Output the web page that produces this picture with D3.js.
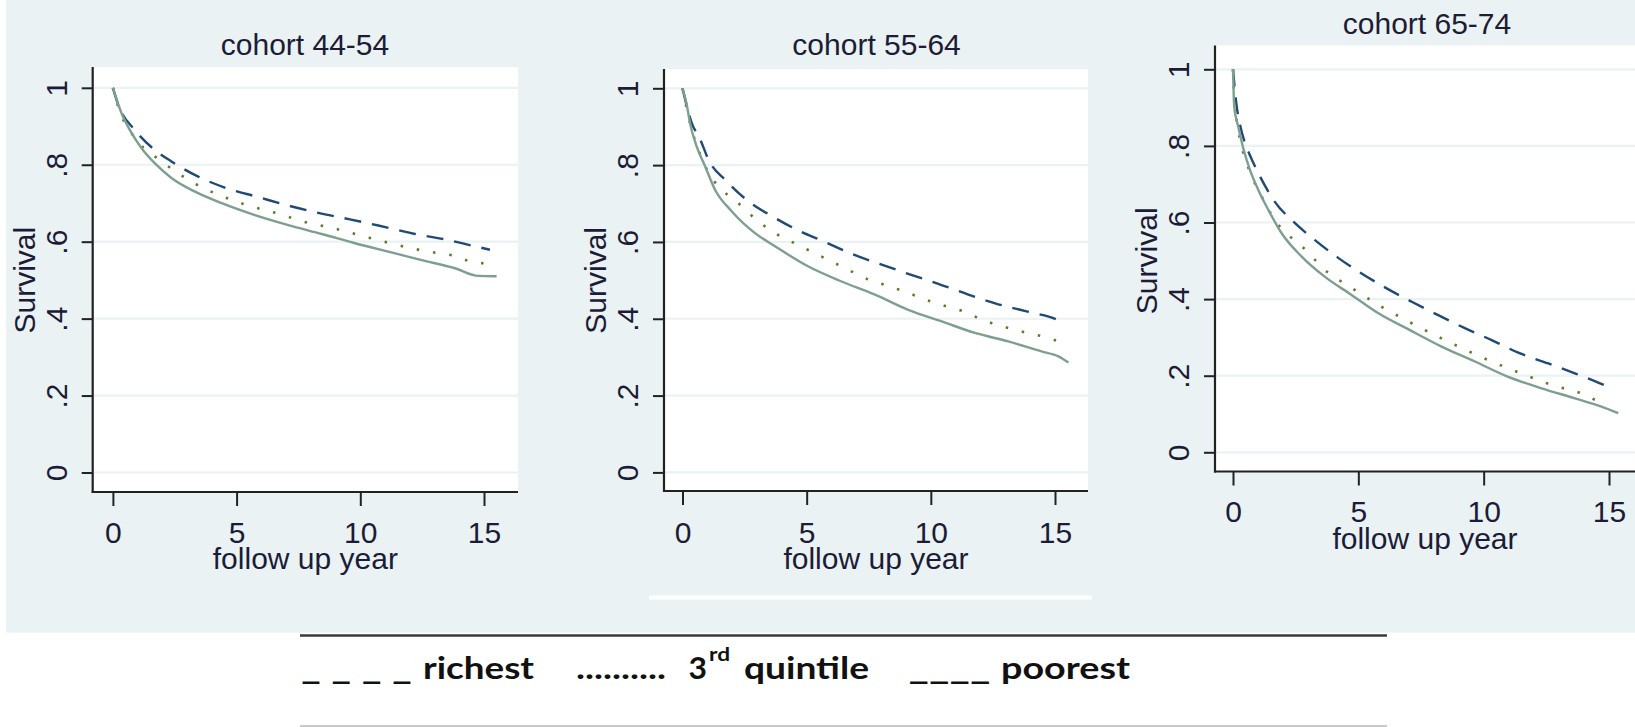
<!DOCTYPE html>
<html>
<head>
<meta charset="utf-8">
<script src="https://cdn.jsdelivr.net/npm/d3@7"></script>
<style>
  html, body { margin: 0; padding: 0; background: #ffffff; }
  svg { display: block; }
</style>
</head>
<body>
<svg id="chart" width="1635" height="727"></svg>
<script>
// ---------------- DATA ----------------
const cohorts = ["cohort 44-54", "cohort 55-64", "cohort 65-74"];
const xTicks = [0, 5, 10, 15];
const yTicks = [0, 0.2, 0.4, 0.6, 0.8, 1];
const yTickLabels = ["0", ".2", ".4", ".6", ".8", "1"];
const xTitle = "follow up year";
const yTitle = "Survival";
const seriesNames = ["richest", "3rd quintile", "poorest"];

// [follow-up year, survival]
const richest4454 = [[0,1],[0.22,0.955],[0.89,0.89],[1.7,0.838],[2.38,0.808],[3.45,0.769],[4.6,0.739],[5.81,0.717],[7.02,0.695],[8.3,0.675],[9.58,0.658],[10.73,0.642],[12.21,0.62],[13.42,0.606],[14.5,0.59],[15.24,0.579]];
const third4454   = [[0,1],[0.22,0.95],[0.96,0.864],[1.9,0.812],[3.18,0.756],[5.27,0.698],[6.89,0.669],[7.49,0.656],[8.91,0.635],[10.55,0.607],[12.28,0.58],[12.98,0.572],[13.69,0.565],[14.7,0.545],[15.4,0.543]];
const poorest4454 = [[0,1],[0.35,0.934],[0.76,0.882],[1.16,0.843],[1.69,0.804],[2.38,0.765],[3.32,0.73],[4.4,0.7],[5.74,0.669],[7.09,0.643],[8.44,0.62],[9.79,0.596],[11.13,0.574],[12.48,0.552],[13.83,0.531],[14.77,0.511],[15.51,0.51]];

const richest5564 = [[0,1],[0.15,0.96],[0.37,0.91],[0.7,0.869],[1.04,0.815],[1.78,0.758],[2.65,0.706],[3.66,0.665],[4.6,0.632],[5.67,0.602],[6.81,0.569],[8.02,0.541],[9.09,0.517],[10.3,0.491],[11.51,0.463],[12.65,0.439],[13.86,0.419],[15.14,0.396],[15.4,0.387]];
const third5564   = [[0,1],[0.3,0.91],[0.77,0.819],[1.38,0.749],[2.11,0.709],[3.12,0.65],[3.72,0.623],[4.53,0.596],[5.44,0.567],[6.54,0.532],[7.46,0.503],[8.36,0.484],[9.26,0.463],[10.17,0.441],[11.18,0.422],[12.25,0.393],[13.39,0.371],[14.73,0.35],[15.34,0.337]];
const poorest5564 = [[0,1],[0.17,0.958],[0.3,0.91],[0.57,0.849],[0.91,0.797],[1.31,0.736],[1.98,0.68],[2.92,0.623],[3.72,0.589],[5.07,0.536],[6.41,0.497],[7.75,0.463],[9.09,0.423],[10.44,0.393],[11.78,0.363],[13.12,0.341],[14.46,0.315],[15.14,0.302],[15.54,0.286]];

const richest6574 = [[0,1],[0.15,0.902],[0.28,0.855],[0.48,0.807],[0.64,0.781],[1.08,0.72],[1.67,0.654],[2.41,0.602],[3.27,0.554],[4.21,0.507],[5.13,0.467],[6.13,0.428],[7.13,0.393],[8.19,0.358],[9.25,0.324],[10.32,0.293],[11.38,0.26],[12.58,0.232],[13.64,0.206],[14.57,0.182],[15.1,0.167]];
const third6574   = [[0,1],[0.08,0.898],[0.81,0.712],[1.08,0.676],[1.54,0.62],[3.01,0.521],[3.6,0.48],[4.67,0.432],[5.93,0.38],[7.13,0.337],[8.46,0.293],[10.32,0.237],[11.65,0.202],[12.71,0.176],[14.04,0.15],[14.5,0.135]];
const poorest6574 = [[0,1],[0.05,0.902],[0.21,0.85],[0.41,0.794],[0.68,0.737],[1.01,0.685],[1.41,0.633],[1.94,0.572],[2.74,0.511],[3.67,0.458],[4.73,0.411],[5.8,0.363],[7.0,0.321],[8.32,0.276],[9.65,0.237],[10.98,0.197],[12.31,0.167],[13.64,0.141],[14.7,0.119],[15.37,0.102]];

const panelSeries = [
  [richest4454, third4454, poorest4454],
  [richest5564, third5564, poorest5564],
  [richest6574, third6574, poorest6574]
];

// ---------------- LAYOUT / STYLE ----------------
const layout = [
  {axisX: 92.7, right: 518, top: 67, bottom: 492, x0: 112.9, x15: 484, y0: 472.5, y1: 87.8, titleX: 305, titleY: 55, tickLabelY: 543, xTitleY: 569},
  {axisX: 664, right: 1088, top: 69, bottom: 491, x0: 682.5, x15: 1055, y0: 472.4, y1: 88.3, titleX: 876.6, titleY: 55, tickLabelY: 543, xTitleY: 569},
  {axisX: 1215, right: 1635, top: 45.5, bottom: 471.5, x0: 1233, x15: 1609, y0: 452.3, y1: 69.3, titleX: 1427, titleY: 33.5, tickLabelY: 521.7, xTitleY: 549}
];
const styles = [
  {color: "#1f4a75", width: 2.4, dash: "17,11"},
  {color: "#5d7b2c", width: 2.6, dash: "2.5,14"},
  {color: "#7e9f90", width: 2.4, dash: null}
];
const bg = "#eaf2f3";
const textColor = "#1c1c36";
const font = "'Liberation Sans', Arial, sans-serif";
const fs = 30;

// ---------------- DRAW ----------------
const svg = d3.select("#chart");
svg.append("rect").attr("x", 6).attr("y", 0).attr("width", 1629).attr("height", 632.5).attr("fill", bg);
// white stroke under middle panel (artifact in original)
svg.append("rect").attr("x", 649).attr("y", 595.5).attr("width", 443).attr("height", 4).attr("fill", "#ffffff");

cohorts.forEach((title, i) => {
  const L = layout[i];
  const x = d3.scaleLinear().domain([0, 15]).range([L.x0, L.x15]);
  const y = d3.scaleLinear().domain([0, 1]).range([L.y0, L.y1]);
  const g = svg.append("g");

  g.append("rect").attr("x", L.axisX).attr("y", L.top)
    .attr("width", L.right - L.axisX).attr("height", L.bottom - L.top).attr("fill", "#ffffff");

  // gridlines
  g.selectAll(".grid").data(yTicks).enter().append("line")
    .attr("x1", L.axisX).attr("x2", L.right)
    .attr("y1", d => y(d)).attr("y2", d => y(d))
    .attr("stroke", bg).attr("stroke-width", 2.2);

  // curves
  const line = d3.line().x(d => x(d[0])).y(d => y(d[1])).curve(d3.curveMonotoneX);
  panelSeries[i].forEach((s, k) => {
    const st = styles[k];
    g.append("path").datum(s).attr("d", line)
      .attr("fill", "none").attr("stroke", st.color).attr("stroke-width", st.width)
      .attr("stroke-dasharray", st.dash).attr("stroke-linecap", "butt");
  });

  // y axis
  const yAxis = d3.axisLeft(y).tickValues(yTicks).tickFormat((d, j) => yTickLabels[j]).tickSize(11).tickSizeOuter(0);
  const ya = g.append("g").attr("transform", `translate(${L.axisX},0)`).call(yAxis);
  ya.select(".domain").remove();
  ya.selectAll(".tick line").attr("stroke", "#222").attr("stroke-width", 2);
  ya.selectAll(".tick text")
    .attr("transform", "rotate(-90)")
    .attr("x", 0).attr("y", -26).attr("dy", null)
    .attr("text-anchor", "middle")
    .attr("font-family", font).attr("font-size", fs).attr("fill", textColor);

  // x axis
  const xAxis = d3.axisBottom(x).tickValues(xTicks).tickFormat(d3.format("d")).tickSize(14).tickSizeOuter(0);
  const xa = g.append("g").attr("transform", `translate(0,${L.bottom})`).call(xAxis);
  xa.select(".domain").remove();
  xa.selectAll(".tick line").attr("stroke", "#222").attr("stroke-width", 2);
  xa.selectAll(".tick text")
    .attr("y", L.tickLabelY - L.bottom).attr("dy", null)
    .attr("font-family", font).attr("font-size", fs).attr("fill", textColor);

  // axis lines
  g.append("line").attr("x1", L.axisX).attr("x2", L.axisX).attr("y1", L.top).attr("y2", L.bottom + 1)
    .attr("stroke", "#222").attr("stroke-width", 2.2);
  g.append("line").attr("x1", L.axisX - 1).attr("x2", L.right).attr("y1", L.bottom).attr("y2", L.bottom)
    .attr("stroke", "#222").attr("stroke-width", 2.2);

  // titles
  g.append("text").attr("x", L.titleX).attr("y", L.titleY).attr("text-anchor", "middle")
    .attr("font-family", font).attr("font-size", fs).attr("fill", textColor).text(title);
  g.append("text").attr("x", (L.axisX + L.right) / 2).attr("y", L.xTitleY).attr("text-anchor", "middle")
    .attr("font-family", font).attr("font-size", fs).attr("fill", textColor).text(xTitle);
  g.append("text").attr("transform", `translate(${L.axisX - 58},${(y(0) + y(1)) / 2}) rotate(-90)`)
    .attr("text-anchor", "middle")
    .attr("font-family", font).attr("font-size", fs).attr("fill", textColor).text(yTitle);
});

// ---------------- LEGEND ----------------
svg.append("line").attr("x1", 300).attr("x2", 1387).attr("y1", 635.5).attr("y2", 635.5)
  .attr("stroke", "#3a3a3a").attr("stroke-width", 2.5);
svg.append("line").attr("x1", 300).attr("x2", 1387).attr("y1", 726).attr("y2", 726)
  .attr("stroke", "#c9c9c9").attr("stroke-width", 2);

const lfont = "Lato, 'Open Sans', sans-serif";
const legendItems = [
  {t: "_ _ _ _", x: 301, w: 111, y: 679, size: 30},
  {t: seriesNames[0], x: 423, w: 111, y: 679, size: 30},
  {t: "..........", x: 576, w: 90, y: 679, size: 30},
  {t: "3", x: 688.5, w: 18.5, y: 679, size: 30},
  {t: "rd", x: 709, w: 21, y: 661, size: 18},
  {t: "quintile", x: 744, w: 125, y: 679, size: 30},
  {t: "____", x: 908.5, w: 82, y: 679, size: 30},
  {t: seriesNames[2], x: 1001, w: 129, y: 679, size: 30}
];
svg.selectAll(".leg").data(legendItems).enter().append("text")
  .attr("x", d => d.x).attr("y", d => d.y)
  .attr("textLength", d => d.w).attr("lengthAdjust", "spacingAndGlyphs")
  .attr("font-family", lfont).attr("font-weight", 700).attr("font-size", d => d.size)
  .attr("fill", "#111").text(d => d.t);
</script>
</body>
</html>
